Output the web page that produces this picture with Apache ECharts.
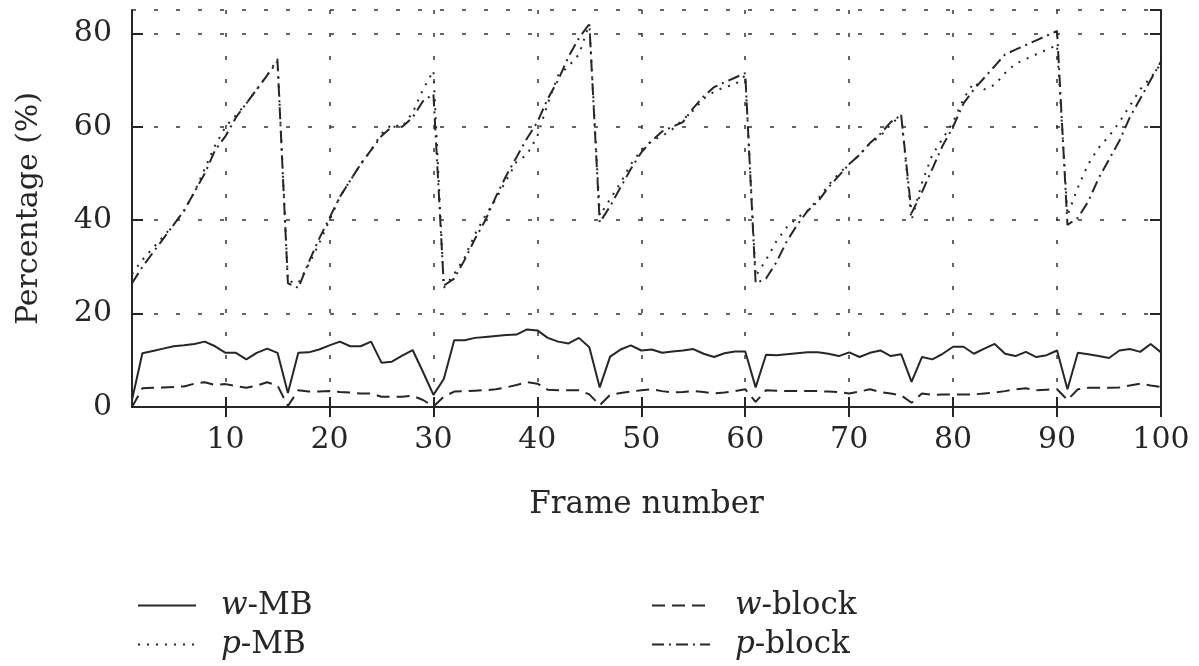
<!DOCTYPE html>
<html>
<head>
<meta charset="utf-8">
<script src="https://cdn.jsdelivr.net/npm/echarts@6/dist/echarts.min.js"></script>
<style>
  html, body { margin: 0; padding: 0; background: #fff; }
  #chart { width: 1199px; height: 666px; }
</style>
</head>
<body>
<div id="chart"></div>
<script>
// frame numbers 1..100
const frames = Array.from({ length: 100 }, (_, i) => String(i + 1));
const yTicks = [0, 20, 40, 60, 80];

const wMB = [
  1.5, 11.5, 12, 12.5, 13, 13.2, 13.5, 14, 13, 11.6,
  11.6, 10.2, 11.6, 12.5, 11.6, 3, 11.6, 11.7, 12.3, 13.2,
  14, 13, 13, 14, 9.5, 9.7, 11, 12.2, 7.5, 2.6,
  6, 14.3, 14.3, 14.8, 15, 15.2, 15.4, 15.5, 16.6, 16.4,
  14.8, 14, 13.6, 14.8, 12.8, 4.2, 10.8, 12.3, 13.2, 12.1,
  12.3, 11.6, 11.9, 12.1, 12.4, 11.4, 10.7, 11.5, 11.9, 11.9,
  4.2, 11.2, 11.1, 11.3, 11.5, 11.7, 11.7, 11.4, 10.9, 11.7,
  10.7, 11.6, 12.1, 10.9, 11.3, 5.4, 10.7, 10.2, 11.4, 12.9,
  12.9, 11.4, 12.5, 13.5, 11.4, 10.9, 11.8, 10.7, 11.1, 12.1,
  3.8, 11.6, 11.3, 10.9, 10.5, 12.1, 12.4, 11.8, 13.5, 11.7
];

const wBlock = [
  0, 4, 4.1, 4.2, 4.3, 4.4, 5, 5.3, 4.7, 4.9,
  4.5, 4.1, 4.6, 5.3, 4.6, 0.2, 3.6, 3.3, 3.3, 3.4,
  3.2, 3.1, 2.9, 2.9, 2.2, 2.2, 2.2, 2.4, 1.5, 0.1,
  2.2, 3.3, 3.4, 3.5, 3.6, 3.8, 4.2, 4.7, 5.3, 5,
  3.7, 3.6, 3.6, 3.6, 2.7, 0.4, 2.6, 3, 3.3, 3.6,
  3.8, 3.4, 3.1, 3.2, 3.4, 3.2, 2.9, 3.1, 3.4, 3.8,
  1.1, 3.6, 3.5, 3.4, 3.4, 3.4, 3.4, 3.3, 3.2, 2.9,
  3.3, 3.8, 3.2, 2.9, 2.5, 0.9, 2.9, 2.6, 2.7, 2.7,
  2.7, 2.7, 2.9, 3.1, 3.4, 3.8, 4, 3.6, 3.7, 3.8,
  1.5, 3.8, 4.1, 4.1, 4.1, 4.2, 4.6, 5, 4.6, 4.3
];

const pMB = [
  28.5, 31.5, 34, 36.5, 39, 42, 46, 51, 56, 60,
  62.5, 65, 68, 71, 74.5, 27, 26.5, 30.5, 35, 40,
  45, 48.5, 52, 55, 58.5, 60.5, 60, 63, 68, 72,
  25.5, 28.5, 32, 37, 41, 44.5, 48.5, 52.5, 54, 58,
  65, 71, 73, 75.5, 82, 41, 44.5, 48, 52, 55,
  57, 58, 59.5, 61.5, 63.5, 66, 67.5, 68.5, 69, 71,
  28, 31.5, 35.5, 38.5, 40.5, 42, 44.5, 47.5, 50, 52,
  54, 56.5, 58, 60.5, 62.5, 40, 48, 54, 57.5, 61,
  66, 69.5, 68, 69, 71.5, 73.5, 74.5, 75.5, 76.5, 77.5,
  41, 47, 52, 55.5, 58, 61, 64.5, 68, 70.5, 73.5
];

const pBlock = [
  26.5, 30, 33, 36, 39, 42, 46, 50, 55, 58,
  62, 65, 68, 71, 74, 26.5, 25.5, 31, 36, 40.5,
  45, 48.5, 52, 55, 58, 60, 60, 62, 65.5, 67,
  26, 27.5, 31.5, 36, 40, 45, 49.5, 53.5, 57.5, 61,
  66, 70, 75, 79, 82, 39.5, 43, 47, 51, 54.5,
  57, 59, 60, 61, 64, 66.5, 68.5, 69.5, 70.5, 71.5,
  26.5, 27.5, 31, 35.5, 39, 42, 44, 47, 49.5, 52,
  54, 56.5, 58.5, 61, 62.5, 41.5, 46, 51, 56, 60,
  65, 68, 70.5, 73, 75.5, 76.5, 77.5, 78.5, 79.5, 80.5,
  39, 40.5, 44, 49, 53, 57, 62, 66, 70, 74
];

const INK = '#262626';
const FONT = 'DejaVu Serif';

const chart = echarts.init(document.getElementById('chart'));

const everyTen = (idx, val) => Number(val) % 10 === 0;

const legendText = {
  fontFamily: FONT,
  fontSize: 31,
  color: INK,
  padding: [0, 0, 0, 20],
  rich: {
    it: { fontFamily: FONT, fontSize: 31, fontStyle: 'italic', color: INK },
    rm: { fontFamily: FONT, fontSize: 31, color: INK }
  }
};
const legendFormatter = name => '{it|' + name.charAt(0) + '}{rm|' + name.slice(1) + '}';

const lineSeries = (name, data, type, width) => ({
  name: name,
  type: 'line',
  data: data,
  symbol: 'none',
  xAxisIndex: 0,
  yAxisIndex: 0,
  lineStyle: { color: INK, width: width, type: type },
  itemStyle: { color: INK }
});

const legendBase = {
  orient: 'vertical',
  top: 585,
  itemWidth: 58,
  itemHeight: 14,
  itemGap: 8,
  itemStyle: { opacity: 0 },
  formatter: legendFormatter,
  textStyle: legendText
};

const option = {
  animation: false,
  backgroundColor: '#fff',
  grid: {
    left: 132,
    right: 38,
    top: 10,
    bottom: 259
  },
  legend: [
    Object.assign({ data: ['w-MB', 'p-MB'], left: 132 }, legendBase),
    Object.assign({ data: ['w-block', 'p-block'], left: 646 }, legendBase)
  ],
  xAxis: [
    {
      type: 'category',
      data: frames,
      boundaryGap: false,
      position: 'bottom',
      name: 'Frame number',
      nameLocation: 'middle',
      nameGap: 82,
      nameTextStyle: { fontFamily: FONT, fontSize: 31, color: INK },
      axisLine: { lineStyle: { color: INK, width: 2 } },
      axisTick: { inside: true, length: 10, interval: everyTen, lineStyle: { color: INK, width: 2 } },
      axisLabel: { interval: everyTen, margin: 18, fontFamily: FONT, fontSize: 30, color: INK },
      splitLine: { show: true, interval: everyTen, lineStyle: { color: '#333', width: 1.5, type: [4, 19] } }
    },
    {
      type: 'category',
      data: frames,
      boundaryGap: false,
      position: 'top',
      axisLine: { lineStyle: { color: INK, width: 2 } },
      axisTick: { inside: true, length: 10, interval: everyTen, lineStyle: { color: INK, width: 2 } },
      axisLabel: { show: false },
      splitLine: { show: false }
    }
  ],
  yAxis: [
    {
      type: 'value',
      min: 0,
      max: 85,
      interval: 20,
      position: 'left',
      name: 'Percentage (%)',
      nameLocation: 'middle',
      nameRotate: 90,
      nameGap: 88,
      nameTextStyle: { fontFamily: FONT, fontSize: 30, color: INK },
      axisLine: { show: true, lineStyle: { color: INK, width: 2 } },
      axisTick: { show: true, inside: true, length: 11, lineStyle: { color: INK, width: 2 } },
      axisLabel: { margin: 20, showMaxLabel: false, fontFamily: FONT, fontSize: 30, color: INK,
        formatter: v => (yTicks.indexOf(v) >= 0 ? String(v) : '') },
      splitLine: { show: true, lineStyle: { color: '#333', width: 1.5, type: [4, 18] } }
    },
    {
      type: 'value',
      min: 0,
      max: 85,
      interval: 20,
      position: 'right',
      axisLine: { show: true, lineStyle: { color: INK, width: 2 } },
      axisTick: { show: true, inside: true, length: 11, lineStyle: { color: INK, width: 2 } },
      axisLabel: { show: false },
      splitLine: { show: false }
    }
  ],
  series: [
    lineSeries('w-MB', wMB, 'solid', 2),
    lineSeries('w-block', wBlock, [13, 7], 2),
    lineSeries('p-MB', pMB, [2, 7], 2),
    lineSeries('p-block', pBlock, [12, 5, 2, 5], 2)
  ]
};

chart.setOption(option);
</script>
</body>
</html>
